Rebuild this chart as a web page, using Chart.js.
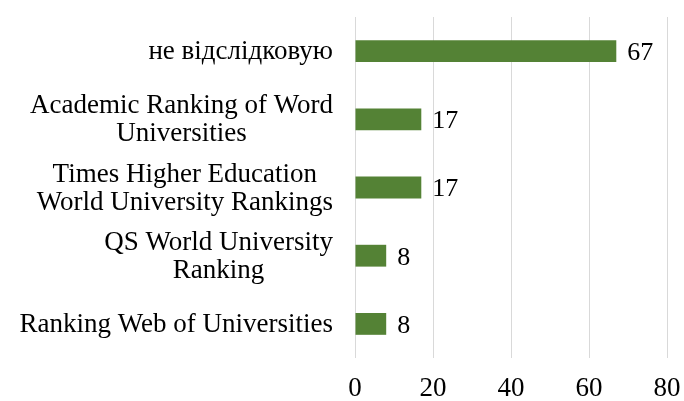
<!DOCTYPE html>
<html>
<head>
<meta charset="utf-8">
<script src="https://cdn.jsdelivr.net/npm/chart.js@4"></script>
<style>
  html, body { margin: 0; padding: 0; background: #fff; }
  #wrap { width: 684px; height: 401px; }
</style>
</head>
<body>
<div id="wrap"><canvas id="chart"></canvas></div>
<script>
const categories = [
  ['не відслідковую'],
  ['Academic Ranking of Word', 'Universities'],
  ['Times Higher Education', 'World University Rankings'],
  ['QS World University', 'Ranking'],
  ['Ranking Web of Universities']
];
const values = [67, 17, 17, 8, 8];
const xTicks = [0, 20, 40, 60, 80];

const FONT = '"Liberation Serif", "Times New Roman", serif';

// value next to each bar + category labels (right-aligned block, lines centred like Excel)
const textLayer = {
  id: 'textLayer',
  afterDatasetsDraw(chart) {
    const ctx = chart.ctx;
    const meta = chart.getDatasetMeta(0);
    ctx.save();
    ctx.fillStyle = '#000';
    ctx.textBaseline = 'middle';

    ctx.font = '26px ' + FONT;
    ctx.textAlign = 'left';
    meta.data.forEach((bar, i) => {
      ctx.fillText(String(values[i]), bar.x + 11, bar.y + 2);
    });

    ctx.font = '27px ' + FONT;
    ctx.textAlign = 'center';
    const lineH = 28;
    const rightEdge = chart.chartArea.left - 22;
    meta.data.forEach((bar, i) => {
      const lines = categories[i];
      const w = Math.max(...lines.map(t => ctx.measureText(t).width));
      const cx = rightEdge - w / 2;
      const y0 = bar.y - (lines.length - 1) * lineH / 2 + 1;
      lines.forEach((t, k) => ctx.fillText(t, cx, y0 + k * lineH));
    });
    ctx.restore();
  }
};

new Chart(document.getElementById('chart'), {
  type: 'bar',
  data: {
    labels: categories.map(c => c.join(' ')),
    datasets: [{
      data: values,
      backgroundColor: '#548235',
      categoryPercentage: 1,
      barPercentage: 0.32
    }]
  },
  options: {
    indexAxis: 'y',
    responsive: true,
    maintainAspectRatio: false,
    animation: false,
    layout: { padding: { top: 17, right: 17, left: 0, bottom: 0 } },
    plugins: { legend: { display: false }, tooltip: { enabled: false } },
    scales: {
      x: {
        min: 0, max: 80,
        afterBuildTicks: (scale) => { scale.ticks = xTicks.map(v => ({ value: v })); },
        afterFit: (scale) => { scale.height = 43; scale.paddingLeft = 0; scale.paddingRight = 0; },
        grid: { color: '#d9d9d9', drawTicks: false },
        border: { display: false },
        ticks: { color: '#000', padding: 17, maxRotation: 0, font: { family: FONT, size: 27, lineHeight: 1 } }
      },
      y: {
        grid: { display: false },
        border: { display: false },
        ticks: { display: false },
        afterFit: (scale) => { scale.width = 355; }
      }
    }
  },
  plugins: [textLayer]
});
</script>
</body>
</html>
